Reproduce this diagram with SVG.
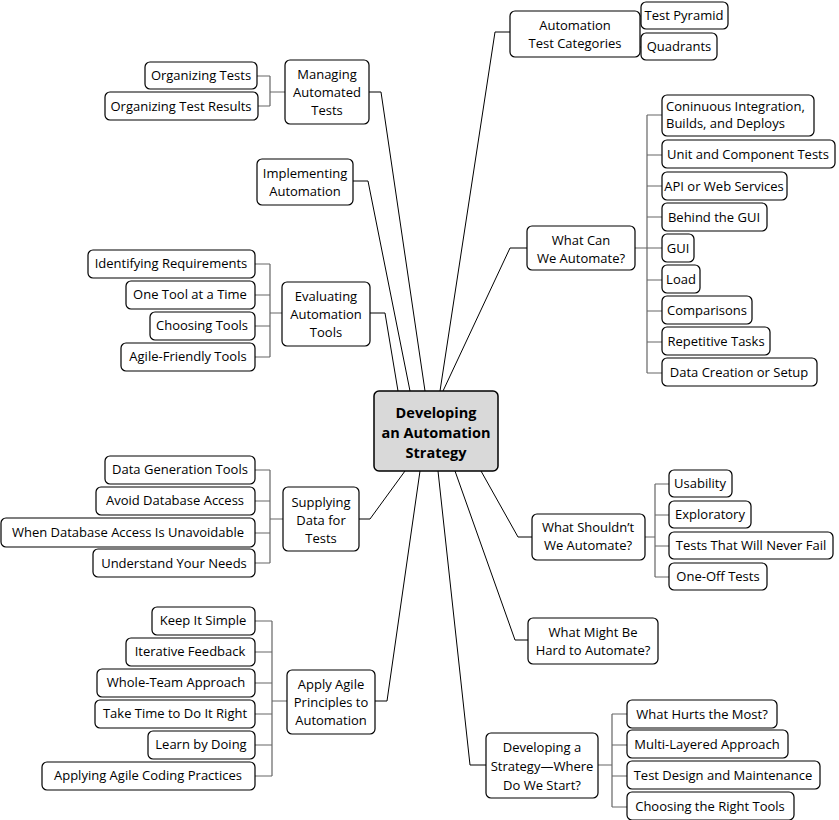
<svg xmlns="http://www.w3.org/2000/svg" width="839" height="820" viewBox="0 0 839 820">
<style>
rect{fill:#fff;stroke:#000;stroke-width:1.2}
text{font-family:"Open Sans","DejaVu Sans",sans-serif;font-size:13px;text-anchor:middle;fill:#000}
.c{fill:#d9d9d9;stroke-width:1.5}
.t{font-weight:bold;font-size:14.5px}
.m{fill:none;stroke:#000;stroke-width:1}
.b{fill:none;stroke:#666;stroke-width:1.2}
</style>
<rect width="839" height="820" style="fill:#fff;stroke:none"/>
<g id="connectors">
<path class="m" d="M440 391L495 32H510M443 391L510 248H527M481 471L518 537H532M455 471L515 640H528M438 471L470 765H486M425 391L381 92H369M410 391L368 181H353M398 391L385 313H370M405 471L370 519H359M420 471L387 701H375"/>
<path class="b" d="M640 34H630M630 16V47M630 16H641M630 47H641"/>
<path class="b" d="M635 248H647M647 115V373M647 115H662M647 155H662M647 186H662M647 217H662M647 248H662M647 280H662M647 311H662M647 342H662M647 373H662"/>
<path class="b" d="M645 537H655M655 484V577M655 484H669M655 515H669M655 546H669M655 577H669"/>
<path class="b" d="M598 765H612M612 714V807M612 714H627M612 745H627M612 776H627M612 807H627"/>
<path class="b" d="M285 92H270M270 76V106M270 76H257M270 106H258"/>
<path class="b" d="M282 313H270M270 264V357M270 264H255M270 295H255M270 326H255M270 357H255"/>
<path class="b" d="M283 519H270M270 470V563M270 470H255M270 501H255M270 533H255M270 563H255"/>
<path class="b" d="M287 701H272M272 621V776M272 621H255M272 652H255M272 683H255M272 714H255M272 745H255M272 776H255"/>
</g>
<g id="center"><rect class="c" x="374" y="391" width="124" height="80" rx="5"/><text class="t" x="436" y="418">Developing</text><text class="t" x="436" y="438">an Automation</text><text class="t" x="436" y="458">Strategy</text></g>
<g id="atc"><rect x="510" y="11" width="130" height="46" rx="5"/><text x="575" y="30">Automation</text><text x="575" y="48">Test Categories</text></g>
<g id="tp"><rect x="641" y="2" width="87" height="27" rx="5"/><text x="684" y="20">Test Pyramid</text></g>
<g id="quad"><rect x="641" y="33" width="76" height="27" rx="5"/><text x="679" y="51">Quadrants</text></g>
<g id="wca"><rect x="527" y="226" width="108" height="44" rx="5"/><text x="581" y="245">What Can</text><text x="581" y="263">We Automate?</text></g>
<g id="ci"><rect x="662" y="95" width="152" height="41" rx="5"/><text x="666" y="111" style="text-anchor:start">Coninuous Integration,</text><text x="666" y="128" style="text-anchor:start">Builds, and Deploys</text></g>
<g id="uct"><rect x="662" y="140" width="173" height="28" rx="5"/><text x="748" y="159">Unit and Component Tests</text></g>
<g id="api"><rect x="662" y="172" width="125" height="28" rx="5"/><text x="724" y="191">API or Web Services</text></g>
<g id="btg"><rect x="662" y="203" width="105" height="28" rx="5"/><text x="714" y="222">Behind the GUI</text></g>
<g id="gui"><rect x="662" y="234" width="32" height="28" rx="5"/><text x="678" y="253">GUI</text></g>
<g id="load"><rect x="662" y="265" width="38" height="28" rx="5"/><text x="681" y="284">Load</text></g>
<g id="comp"><rect x="662" y="296" width="90" height="28" rx="5"/><text x="707" y="315">Comparisons</text></g>
<g id="rep"><rect x="662" y="327" width="108" height="28" rx="5"/><text x="716" y="346">Repetitive Tasks</text></g>
<g id="dcs"><rect x="662" y="358" width="155" height="28" rx="5"/><text x="739" y="377">Data Creation or Setup</text></g>
<g id="wsa"><rect x="532" y="514" width="113" height="46" rx="5"/><text x="588" y="532">What Shouldn’t</text><text x="588" y="550">We Automate?</text></g>
<g id="us"><rect x="669" y="470" width="63" height="27" rx="5"/><text x="700" y="488">Usability</text></g>
<g id="ex"><rect x="669" y="501" width="82" height="27" rx="5"/><text x="710" y="519">Exploratory</text></g>
<g id="tnf"><rect x="669" y="532" width="164" height="27" rx="5"/><text x="751" y="550">Tests That Will Never Fail</text></g>
<g id="oot"><rect x="669" y="563" width="98" height="27" rx="5"/><text x="718" y="581">One-Off Tests</text></g>
<g id="wmh"><rect x="528" y="618" width="130" height="46" rx="5"/><text x="593" y="637">What Might Be</text><text x="593" y="655">Hard to Automate?</text></g>
<g id="ds"><rect x="486" y="733" width="112" height="65" rx="5"/><text x="542" y="752">Developing a</text><text x="542" y="771">Strategy—Where</text><text x="542" y="790">Do We Start?</text></g>
<g id="whm"><rect x="627" y="700" width="150" height="28" rx="5"/><text x="702" y="719">What Hurts the Most?</text></g>
<g id="mla"><rect x="627" y="730" width="161" height="28" rx="5"/><text x="707" y="749">Multi-Layered Approach</text></g>
<g id="tdm"><rect x="627" y="761" width="193" height="28" rx="5"/><text x="723" y="780">Test Design and Maintenance</text></g>
<g id="crt"><rect x="627" y="792" width="167" height="28" rx="5"/><text x="710" y="811">Choosing the Right Tools</text></g>
<g id="mat"><rect x="285" y="60" width="84" height="64" rx="5"/><text x="327" y="79">Managing</text><text x="327" y="97">Automated</text><text x="327" y="115">Tests</text></g>
<g id="ot"><rect x="145" y="62" width="112" height="27" rx="5"/><text x="201" y="80">Organizing Tests</text></g>
<g id="otr"><rect x="105" y="92" width="153" height="28" rx="5"/><text x="181" y="111">Organizing Test Results</text></g>
<g id="ia"><rect x="257" y="159" width="96" height="46" rx="5"/><text x="305" y="178">Implementing</text><text x="305" y="196">Automation</text></g>
<g id="eat"><rect x="282" y="282" width="88" height="64" rx="5"/><text x="326" y="301">Evaluating</text><text x="326" y="319">Automation</text><text x="326" y="337">Tools</text></g>
<g id="ir"><rect x="88" y="250" width="167" height="28" rx="5"/><text x="171" y="268">Identifying Requirements</text></g>
<g id="otat"><rect x="126" y="281" width="129" height="28" rx="5"/><text x="190" y="299">One Tool at a Time</text></g>
<g id="cht"><rect x="150" y="312" width="105" height="28" rx="5"/><text x="202" y="330">Choosing Tools</text></g>
<g id="aft"><rect x="121" y="343" width="134" height="28" rx="5"/><text x="188" y="361">Agile-Friendly Tools</text></g>
<g id="sdt"><rect x="283" y="487" width="76" height="64" rx="5"/><text x="321" y="507">Supplying</text><text x="321" y="525">Data for</text><text x="321" y="543">Tests</text></g>
<g id="dgt"><rect x="105" y="456" width="150" height="28" rx="5"/><text x="180" y="474">Data Generation Tools</text></g>
<g id="ada"><rect x="96" y="487" width="159" height="28" rx="5"/><text x="175" y="505">Avoid Database Access</text></g>
<g id="wdb"><rect x="1" y="518" width="254" height="29" rx="5"/><text x="128" y="537">When Database Access Is Unavoidable</text></g>
<g id="uyn"><rect x="93" y="549" width="162" height="28" rx="5"/><text x="174" y="568">Understand Your Needs</text></g>
<g id="aap"><rect x="287" y="670" width="88" height="64" rx="5"/><text x="331" y="689">Apply Agile</text><text x="331" y="707">Principles to</text><text x="331" y="725">Automation</text></g>
<g id="kis"><rect x="152" y="607" width="103" height="28" rx="5"/><text x="203" y="625">Keep It Simple</text></g>
<g id="itf"><rect x="126" y="638" width="129" height="28" rx="5"/><text x="190" y="656">Iterative Feedback</text></g>
<g id="wta"><rect x="97" y="669" width="158" height="28" rx="5"/><text x="176" y="687">Whole-Team Approach</text></g>
<g id="ttd"><rect x="95" y="700" width="160" height="28" rx="5"/><text x="175" y="718">Take Time to Do It Right</text></g>
<g id="lbd"><rect x="148" y="731" width="107" height="28" rx="5"/><text x="201" y="749">Learn by Doing</text></g>
<g id="acp"><rect x="42" y="762" width="213" height="28" rx="5"/><text x="148" y="780">Applying Agile Coding Practices</text></g>
</svg>
